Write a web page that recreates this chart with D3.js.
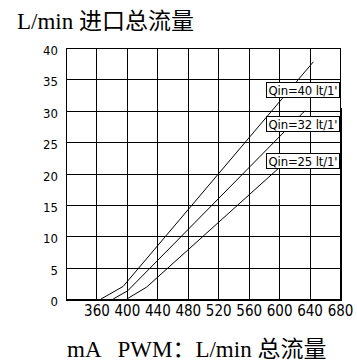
<!DOCTYPE html>
<html>
<head>
<meta charset="utf-8">
<script src="https://cdn.jsdelivr.net/npm/d3@7"></script>
<style>
  body { margin: 0; background: #fff; }
  .tick-label { font-family: "Liberation Sans Narrow", "DejaVu Sans Condensed", sans-serif; fill: #000; }
  .caption { font-family: "Liberation Serif", "Noto Sans CJK SC", serif; font-size: 23px; fill: #000; white-space: pre; }
</style>
</head>
<body>
<div id="chart"></div>
<script>
const WIDTH = 357;
const HEIGHT = 362;

// datos
const xTicks = [360, 400, 440, 480, 520, 560, 600, 640, 680];
const yTicks = [0, 5, 10, 15, 20, 25, 30, 35, 40];
const seriesNames = ["Qin=40 lt/1'", "Qin=32 lt/1'", "Qin=25 lt/1'"];
const pwm40 = [366, 395, 645];
const flow40 = [0, 2, 37.8];
const pwm32 = [382, 401, 634];
const flow32 = [0, 1.3, 30];
const pwm25 = [400, 426, 599];
const flow25 = [0, 1.9, 20.8];

const seriesPwm = [pwm40, pwm32, pwm25];
const seriesFlow = [flow40, flow32, flow25];

// posicion vertical de las etiquetas (en L/min)
const LABEL_Y = [33.1, 27.7, 21.9];
const LABEL_X0 = 583;
const LABEL_X1 = 679;

const margin = { top: 48, right: 17, bottom: 63, left: 66 };
const width = WIDTH - margin.left - margin.right;
const height = HEIGHT - margin.top - margin.bottom;

const svg = d3.select("#chart").append("svg")
    .attr("width", WIDTH)
    .attr("height", HEIGHT);

const g = svg.append("g")
    .attr("transform", `translate(${margin.left},${margin.top})`);

const x = d3.scaleLinear().domain([320, 680]).range([0, width]);
const y = d3.scaleLinear().domain([0, 40]).range([height, 0]);

// Rejilla
g.append("g")
    .selectAll("line")
    .data([320].concat(xTicks))
    .enter().append("line")
    .attr("x1", d => Math.round(x(d)) + 0.5)
    .attr("x2", d => Math.round(x(d)) + 0.5)
    .attr("y1", 0)
    .attr("y2", height)
    .attr("stroke", "#000")
    .attr("shape-rendering", "crispEdges");

g.append("g")
    .selectAll("line")
    .data(yTicks)
    .enter().append("line")
    .attr("x1", 0)
    .attr("x2", width)
    .attr("y1", d => Math.round(y(d)) + 0.5)
    .attr("y2", d => Math.round(y(d)) + 0.5)
    .attr("stroke", "#000")
    .attr("shape-rendering", "crispEdges");

// borde inferior y derecho mas gruesos
g.append("line")
    .attr("x1", 0).attr("x2", width + 1)
    .attr("y1", height + 1).attr("y2", height + 1)
    .attr("stroke", "#000").attr("stroke-width", 2)
    .attr("shape-rendering", "crispEdges");
g.append("line")
    .attr("x1", Math.round(x(680)) + 1).attr("x2", Math.round(x(680)) + 1)
    .attr("y1", y(30.5)).attr("y2", height + 2)
    .attr("stroke", "#000").attr("stroke-width", 2)
    .attr("shape-rendering", "crispEdges");

// Ejes (solo etiquetas)
const xAxis = g.append("g")
    .attr("transform", `translate(0,${height})`)
    .call(d3.axisBottom(x).tickValues(xTicks).tickSize(0).tickPadding(6));
xAxis.select(".domain").remove();
xAxis.selectAll("text").attr("class", "tick-label").attr("font-family", null)
    .attr("font-size", 15);

const yAxis = g.append("g")
    .call(d3.axisLeft(y).tickValues(yTicks).tickSize(0).tickPadding(8));
yAxis.select(".domain").remove();
yAxis.selectAll("text").attr("class", "tick-label").attr("font-family", null)
    .attr("font-size", 13)
    .attr("dy", "0.5em");

// Curvas
const line = d3.line()
    .x(d => x(d[0]))
    .y(d => y(d[1]));

g.selectAll(".curve")
    .data(seriesPwm.map((p, i) => p.map((v, j) => [v, seriesFlow[i][j]])))
    .enter().append("path")
    .attr("class", "curve")
    .attr("d", line)
    .attr("fill", "none")
    .attr("stroke", "#000")
    .attr("stroke-width", 1);

// Etiquetas con recuadro
const labels = g.selectAll(".qlabel")
    .data(seriesNames)
    .enter().append("g")
    .attr("class", "qlabel")
    .attr("transform", (d, i) => `translate(${Math.round(x(LABEL_X0)) + 0.5},${Math.round(y(LABEL_Y[i])) - 8.5})`);

labels.append("rect")
    .attr("width", Math.round(x(LABEL_X1) - x(LABEL_X0)))
    .attr("height", 15)
    .attr("fill", "#fff")
    .attr("stroke", "#000");

labels.append("text")
    .attr("class", "tick-label")
    .attr("x", 2)
    .attr("y", 12)
    .attr("font-size", 13)
    .attr("textLength", 69)
    .attr("lengthAdjust", "spacing")
    .text(d => d);

// Titulos
svg.append("text")
    .attr("class", "caption")
    .attr("x", 17)
    .attr("y", 29)
    .text("L/min 进口总流量");

svg.append("text")
    .attr("class", "caption")
    .attr("x", 67)
    .attr("y", 357)
    .text("mA   PWM：L/min 总流量");
</script>
</body>
</html>
